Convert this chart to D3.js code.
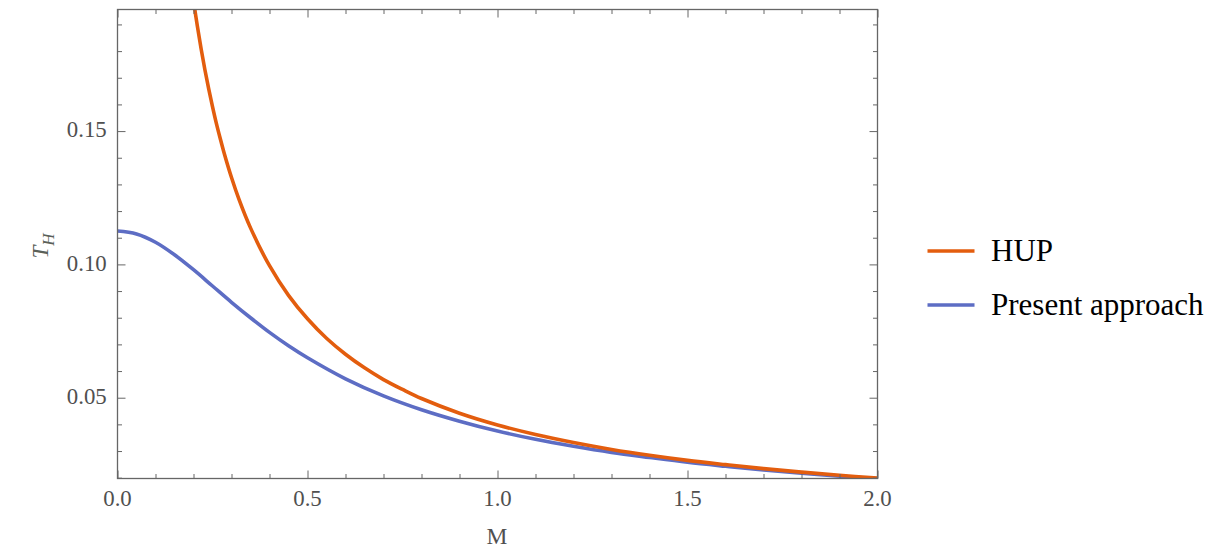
<!DOCTYPE html>
<html><head><meta charset="utf-8">
<script src="https://cdn.jsdelivr.net/npm/d3@7"></script>
<style>body{margin:0;background:#fff}svg{display:block}</style>
</head><body>
<script>
const seriesNames = ["HUP", "Present approach"];
const hupM = [0.20,0.21,0.22,0.23,0.24,0.25,0.26,0.27,0.28,0.30,0.32,0.35,0.40,0.45,0.50,0.55,0.60,0.65,0.70,0.75,0.80,0.90,1.0,1.1,1.2,1.3,1.4,1.5,1.6,1.7,1.8,1.9,2.0];
const hupT = [0.1989,0.1895,0.1809,0.1730,0.1658,0.1592,0.1530,0.1474,0.1421,0.1326,0.1243,0.1137,0.0995,0.0884,0.0796,0.0723,0.0663,0.0612,0.0568,0.0531,0.0497,0.0442,0.0398,0.0362,0.0332,0.0306,0.0284,0.0265,0.0249,0.0234,0.0221,0.0209,0.0199];
const preM = [0,0.05,0.1,0.15,0.2,0.25,0.3,0.35,0.4,0.45,0.5,0.6,0.7,0.8,0.9,1.0,1.1,1.2,1.3,1.4,1.5,1.6,1.7,1.8,1.9,2.0];
const preT = [0.1125,0.1114,0.1083,0.1036,0.0980,0.0919,0.0858,0.0800,0.0745,0.0695,0.0650,0.0571,0.0507,0.0455,0.0412,0.0375,0.0344,0.0318,0.0295,0.0276,0.0258,0.0243,0.0229,0.0217,0.0206,0.0196];
const xTicks = [0, 0.5, 1.0, 1.5, 2.0];
const yTicks = [0.05, 0.10, 0.15];
const colors = ["#e35d0e", "#5d6dc4"];

const W = 1229, H = 556;
const L = 117.5, R = 877.5, T = 9.5, B = 478.5;
const font = '"Liberation Serif","Times New Roman",serif';
const svg = d3.select("body").append("svg").attr("width", W).attr("height", H);
const x = d3.scaleLinear().domain([0, 2]).range([L, R]);
const y = d3.scaleLinear().domain([0.0197, 0.1956]).range([B, T]);

svg.append("defs").append("clipPath").attr("id", "clip")
  .append("rect").attr("x", L).attr("y", T).attr("width", R - L).attr("height", B - T);

const line = d3.line().x(d => x(d[0])).y(d => y(d[1])).curve(d3.curveCatmullRom.alpha(0.5));
const data = [hupM.map((m, i) => [m, hupT[i]]), preM.map((m, i) => [m, preT[i]])];
const g = svg.append("g").attr("clip-path", "url(#clip)");
[1, 0].forEach(k => {
  g.append("path").datum(data[k]).attr("d", line)
    .attr("fill", "none").attr("stroke", colors[k]).attr("stroke-width", 3.6)
    .attr("stroke-linejoin", "round");
});

const frameColor = "#666";
const textColor = "#505050";

const xMinor = d3.range(0, 2.0001, 0.1);
const yMinor = d3.range(0.02, 0.1956, 0.01);

function ticks(axisFn, vals, major) {
  return axisFn.tickValues(vals).tickFormat("").tickSizeOuter(0).tickSize(major ? 8 : 4.5);
}
const inward = [
  [() => d3.axisTop(x), `translate(0,${B})`, xMinor, xTicks],
  [() => d3.axisBottom(x), `translate(0,${T})`, xMinor, xTicks],
  [() => d3.axisRight(y), `translate(${L},0)`, yMinor, yTicks],
  [() => d3.axisLeft(y), `translate(${R},0)`, yMinor, yTicks]
];
inward.forEach(([mk, tr, minor, major]) => {
  const a1 = svg.append("g").attr("transform", tr).call(ticks(mk(), minor.filter(v => !major.some(m => Math.abs(m - v) < 1e-9)), false));
  const a2 = svg.append("g").attr("transform", tr).call(ticks(mk(), major, true));
  [a1, a2].forEach(a => { a.select(".domain").remove(); a.selectAll("line").attr("stroke", frameColor).attr("stroke-width", 1); a.selectAll("text").remove(); });
});
svg.append("rect").attr("x", L).attr("y", T).attr("width", R - L).attr("height", B - T)
  .attr("fill", "none").attr("stroke", frameColor).attr("stroke-width", 1.3);

svg.append("g").selectAll("text").data(xTicks).join("text")
  .attr("x", d => x(d)).attr("y", B + 27.2).attr("text-anchor", "middle")
  .style("font-family", font).style("font-size", "22.8px").attr("fill", textColor)
  .text(d => d3.format(".1f")(d));
svg.append("g").selectAll("text").data(yTicks).join("text")
  .attr("x", L - 10.8).attr("y", d => y(d) + 6.3).attr("text-anchor", "end")
  .style("font-family", font).style("font-size", "22.8px").attr("fill", textColor)
  .text(d => d3.format(".2f")(d));

svg.append("text").attr("x", x(1) - 0.5).attr("y", B + 65).attr("text-anchor", "middle")
  .style("font-family", font).style("font-size", "23.5px").attr("fill", textColor).text("M");
const yl = svg.append("text").attr("transform", `translate(47.5,246) rotate(-90)`)
  .attr("text-anchor", "middle").style("font-family", font).style("font-size", "23px").attr("fill", "#5a6058");
yl.append("tspan").style("font-style", "italic").text("T");
yl.append("tspan").style("font-style", "italic").style("font-size", "17px").attr("dy", 6).text("H");

const leg = svg.append("g").selectAll("g").data(seriesNames).join("g")
  .attr("transform", (d, i) => `translate(927.5,${251 + i * 54})`);
leg.append("line").attr("x1", 0).attr("x2", 47).attr("y1", 0).attr("y2", 0)
  .attr("stroke", (d, i) => colors[i]).attr("stroke-width", 3.6);
leg.append("text").attr("x", 63.5).attr("y", 9.7)
  .style("font-family", font).style("font-size", "31px").attr("fill", "#000").text(d => d);
</script>
</body></html>
